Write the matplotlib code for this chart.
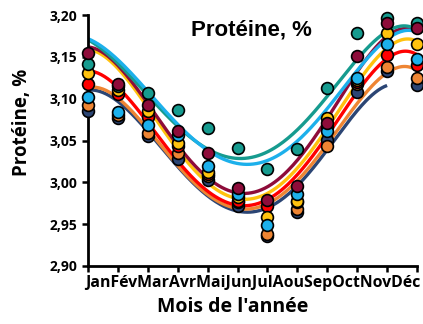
import matplotlib
matplotlib.use('Agg')
import matplotlib.pyplot as plt
import numpy as np

mois = ['Jan', 'Fév', 'Mar', 'Avr', 'Mai', 'Jun', 'Jul', 'Aou', 'Sep', 'Oct', 'Nov', 'Déc']

teal   = [3.142, 3.115, 3.107, 3.087, 3.065, 3.041, 3.016, 3.040, 3.113, 3.178, 3.196, 3.190]
bleu   = [3.102, 3.084, 3.068, 3.057, 3.019, 2.986, 2.949, 2.986, 3.061, 3.125, 3.165, 3.148]
bordeaux = [3.154, 3.118, 3.092, 3.061, 3.035, 2.993, 2.979, 2.996, 3.071, 3.151, 3.190, 3.185]
jaune  = [3.131, 3.110, 3.085, 3.047, 3.012, 2.982, 2.959, 2.978, 3.077, 3.122, 3.178, 3.165]
rouge  = [3.118, 3.105, 3.078, 3.043, 3.010, 2.978, 2.972, 2.976, 3.066, 3.120, 3.152, 3.140]
orange = [3.093, 3.080, 3.059, 3.035, 3.008, 2.976, 2.938, 2.968, 3.044, 3.117, 3.138, 3.125]
marine = [3.085, 3.077, 3.055, 3.028, 3.003, 2.972, 2.936, 2.965, 3.050, 3.108, 3.133, 3.116]

# courbes de tendance, lues aux mois (la marine s'arrete en novembre)
t_teal   = [3.170, 3.144, 3.102, 3.065, 3.043, 3.031, 3.035, 3.057, 3.105, 3.154, 3.174, 3.184]
t_bleu   = [3.172, 3.146, 3.107, 3.073, 3.036, 3.023, 3.027, 3.047, 3.087, 3.140, 3.166, 3.181]
t_bordeaux = [3.163, 3.136, 3.095, 3.051, 2.999, 2.987, 2.997, 3.025, 3.077, 3.134, 3.172, 3.180]
t_jaune  = [3.160, 3.132, 3.090, 3.047, 2.991, 2.982, 2.989, 3.013, 3.067, 3.122, 3.156, 3.170]
t_rouge  = [3.134, 3.111, 3.075, 3.025, 2.986, 2.975, 2.981, 3.007, 3.055, 3.111, 3.146, 3.153]
t_orange = [3.114, 3.097, 3.069, 3.019, 2.981, 2.971, 2.977, 3.001, 3.043, 3.097, 3.130, 3.134]
t_marine = [3.111, 3.093, 3.067, 3.017, 2.979, 2.968, 2.973, 2.995, 3.035, 3.089, 3.115]

series = [
    (marine, t_marine, '#2b4574'),
    (orange, t_orange, '#ee8533'),
    (rouge, t_rouge, '#ff0000'),
    (jaune, t_jaune, '#ffc20e'),
    (bordeaux, t_bordeaux, '#8e0c3a'),
    (teal, t_teal, '#169b8f'),
    (bleu, t_bleu, '#1cb0eb'),
]

fig = plt.figure(figsize=(4.23, 3.24), dpi=100)
ax = fig.add_axes([88/423, 1-266/324, (417-88)/423, (266-15)/324])

x = np.arange(len(mois))

# lissage des courbes de tendance
for vals, tend, col in series:
    xt = np.arange(len(tend))
    coef = np.polyfit(xt, tend, 5)
    xs = np.linspace(0, len(tend) - 1, 200)
    ax.plot(xs, np.polyval(coef, xs), color=col, lw=2.4, zorder=2, solid_capstyle='butt')

ordre = [0, 1, 2, 3, 6, 5, 4]
for i in ordre:
    vals, tend, col = series[i]
    ax.plot(x, vals, 'o', color=col, mec='black', mew=1.2, ms=8.5, zorder=3, clip_on=False)

ax.set_xlim(0, 11)
ax.set_ylim(2.90, 3.20)
ax.set_yticks(np.arange(2.90, 3.201, 0.05))
ax.set_yticklabels([f'{v:.2f}'.replace('.', ',') for v in np.arange(2.90, 3.201, 0.05)],
                   fontfamily='Open Sans', fontweight='bold', fontsize=10)
ax.set_xticks(x)
ax.set_xticklabels([])
ax.tick_params(direction='out', length=4, width=1.8, color='black')
for s in ['top', 'right']:
    ax.spines[s].set_visible(False)
for s in ['left', 'bottom']:
    ax.spines[s].set_linewidth(2)

fig.text(253/423, 1-283/324, ''.join(mois), ha='center', va='center',
         fontfamily='Open Sans', fontweight='bold', fontsize=11.4)
fig.text(233/423, 1-307/324, "Mois de l'année", ha='center', va='center',
         fontfamily='Open Sans', fontweight='bold', fontsize=14)
fig.text(22/423, 1-122/324, 'Protéine, %', ha='center', va='center', rotation=90,
         fontfamily='Open Sans', fontweight='bold', fontsize=13.5)
ax.text(251/423, 1-30/324, 'Protéine, %', transform=fig.transFigure, ha='center', va='center',
        fontfamily='Liberation Sans', fontweight='bold', fontsize=16)

fig.savefig('out.png', dpi=100)
